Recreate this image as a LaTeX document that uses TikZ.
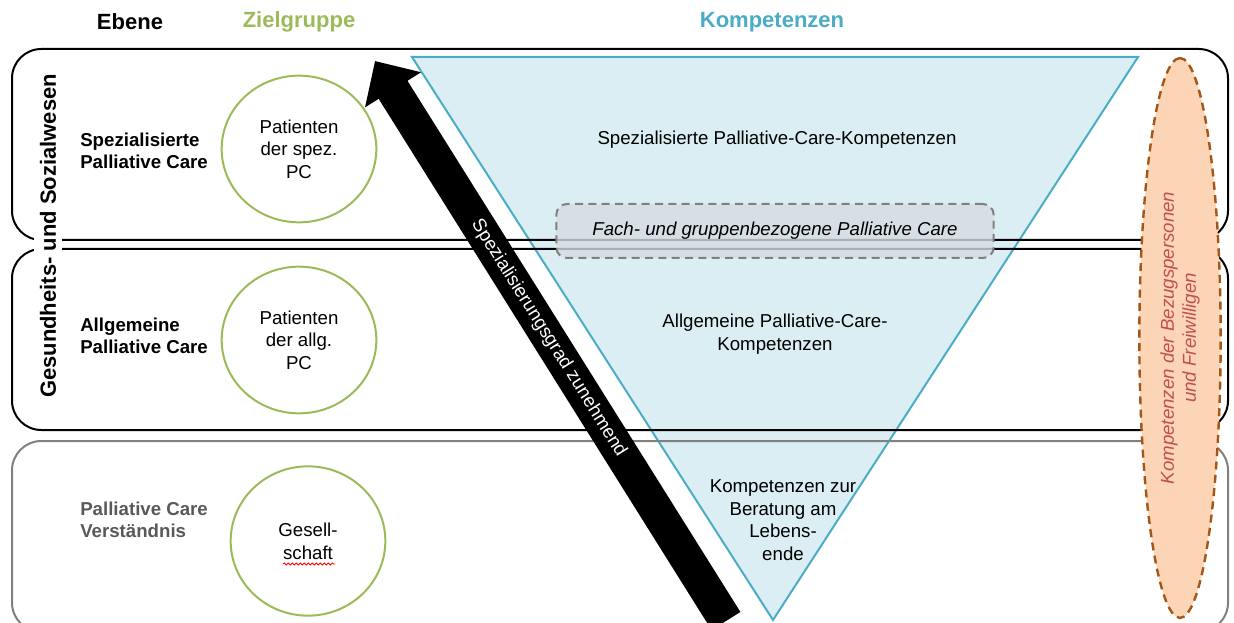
\documentclass[tikz,border=0pt]{standalone}
\usepackage{fontspec}
\setmainfont{Liberation Sans}
\usetikzlibrary{shapes.geometric, arrows.meta}
\usetikzlibrary{decorations.pathmorphing}

\definecolor{zielgruen}{RGB}{155,187,89}
\definecolor{kompblau}{RGB}{75,172,198}
\definecolor{dreieckfill}{RGB}{218,238,243}
\definecolor{orangefill}{RGB}{251,213,181}
\definecolor{braun}{RGB}{165,85,20}
\definecolor{rotschrift}{RGB}{192,80,77}
\definecolor{grauschrift}{RGB}{89,89,89}
\definecolor{rahmengrau}{RGB}{128,128,128}
\definecolor{fachgrau}{RGB}{214,220,224}

\begin{document}
\begin{tikzpicture}[x=0.75pt, y=-0.75pt,
    every node/.style={font=\fontsize{14}{17}\selectfont},
    kopf/.style={font=\fontsize{16.5}{20}\selectfont\bfseries},
    ebene/.style={align=left, anchor=west, inner xsep=0pt, font=\fontsize{14}{16.5}\selectfont\bfseries},
    ebenebox/.style={line width=1.5pt, rounded corners=22pt},
    zielkreis/.style={ellipse, draw=zielgruen, line width=1.5pt, align=center,
        minimum width=116pt, minimum height=110pt, inner sep=0pt},
    kompetenz/.style={align=center},
    fachbox/.style={draw=rahmengrau, line width=1.5pt, dash pattern=on 6pt off 4pt,
        rounded corners=8pt, fill=fachgrau, fill opacity=0.8, text opacity=1,
        minimum width=328pt, minimum height=40.5pt},
    bezug/.style={ellipse, draw=braun, fill=orangefill, line width=1.8pt,
        dash pattern=on 6pt off 4pt, rotate=90, align=center,
        minimum width=420pt, minimum height=61pt, inner sep=0pt,
        text=rotschrift, font=\fontsize{14}{16.5}\selectfont\itshape},
    pfeil/.style={line width=25.5pt, -{Triangle[length=25.5pt, width=48pt]}},
    pfeiltext/.style={text=white, sloped, pos=0.505}]
    \useasboundingbox (0,0) rectangle (1234,623);
    \clip (0,0) rectangle (1234,623);

    % Kopfzeile
    \node[kopf] (ebene) at (130,22) {Ebene};
    \node[kopf, text=zielgruen] (zielgruppe) at (299,22) {Zielgruppe};
    \node[kopf, text=kompblau] (kompetenzen) at (772,22) {Kompetenzen};

    % Kompetenzdreieck
    \draw[draw=kompblau, fill=dreieckfill, line width=1.5pt]
        (412,57) -- (1138,57) -- (773,620) -- cycle;

    % Ebenen
    \draw[ebenebox] (12,49) rectangle (1228,240);
    \draw[ebenebox] (12,249) rectangle (1228,430);
    \draw[ebenebox, draw=rahmengrau] (12,441) rectangle (1228,632);

    \node[fill=white, rotate=90, inner sep=4.5pt, font=\fontsize{16.5}{20}\selectfont\bfseries]
        (gesundheit) at (48,236) {Gesundheits- und Sozialwesen};

    \node[ebene] (spezpc) at (80,151) {Spezialisierte\\Palliative Care};
    \node[ebene] (allgpc) at (80,336) {Allgemeine\\Palliative Care};
    \node[ebene, text=grauschrift] (verstaendnis) at (80,520) {Palliative Care\\Verständnis};

    % Zielgruppen
    \node[zielkreis] (zspez) at (299,149) {Patienten\\der spez.\\PC};
    \node[zielkreis] (zallg) at (299,340) {Patienten\\der allg.\\PC};
    \node[zielkreis, minimum height=112pt] (zgesell) at (308,541) {Gesell-\\schaft};
    \draw[red, line width=0.6pt, decorate, decoration={snake, amplitude=0.8pt, segment length=3pt}]
        (283,564) -- (335,564);

    % Kompetenzen
    \node[kompetenz] (kspez) at (777,140) {Spezialisierte Palliative-Care-Kompetenzen};
    \node[fachbox] (fach) at (775,231) {\itshape Fach- und gruppenbezogene Palliative Care};
    \node[kompetenz] (kallg) at (775,334) {Allgemeine Palliative-Care-\\Kompetenzen};
    \node[kompetenz] (kberat) at (783,520) {Kompetenzen zur\\Beratung am\\Lebens-\\ende};

    % Bezugspersonen
    \node[bezug] (bezugspers) at (1180,338) {Kompetenzen der Bezugspersonen\\und Freiwilligen};

    % Spezialisierungsgrad
    \coordinate (pfeilfuss) at (726,621);
    \coordinate (pfeilspitze) at (375,61);
    \draw[pfeil] (pfeilfuss) -- node[pfeiltext] (spezgrad) {Spezialisierungsgrad zunehmend} (pfeilspitze);
\end{tikzpicture}
\end{document}
